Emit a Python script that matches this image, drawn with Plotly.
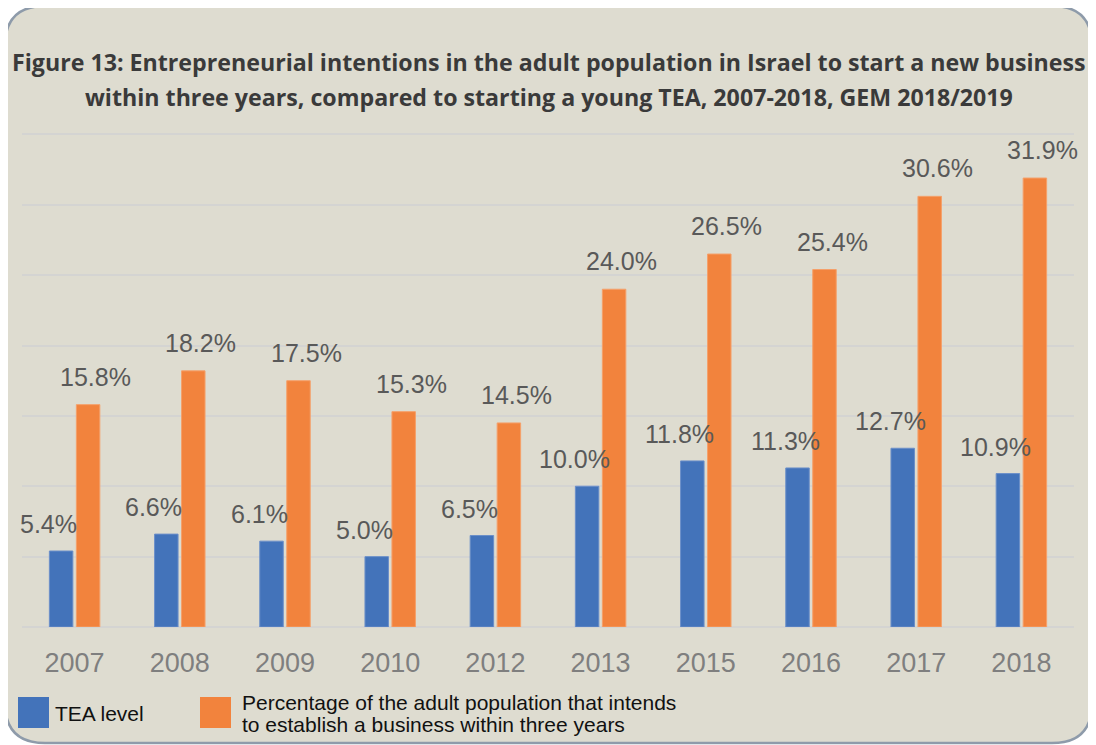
import plotly.graph_objects as go

years = ["2007", "2008", "2009", "2010", "2012", "2013", "2015", "2016", "2017", "2018"]
tea = [5.4, 6.6, 6.1, 5.0, 6.5, 10.0, 11.8, 11.3, 12.7, 10.9]
intend = [15.8, 18.2, 17.5, 15.3, 14.5, 24.0, 26.5, 25.4, 30.6, 31.9]
names = ["TEA level",
         "Percentage of the adult population that intends",
         "to establish a business within three years"]
title_lines = ["Figure 13: Entrepreneurial intentions in the adult population in Israel to start a new business",
               "within three years, compared to starting a young TEA, 2007-2018, GEM 2018/2019"]

BLUE = "#4373BA"
ORANGE = "#F2833D"
BG = "#DEDCD0"

# plot area in screen pixels (page body adds an 8px margin, so the figure is shifted)
OFF = 8
L, T, W, H = 22, 133, 1052, 494


def px(x):
    return (x - L) / W


def py(y):
    return (T + H - y) / H


fig = go.Figure()
fig.add_bar(x=years, y=tea, name=names[0], marker_color=BLUE,
            marker_line=dict(width=1, color="#6b8fc9"))
fig.add_bar(x=years, y=intend, name=names[1], marker_color=ORANGE,
            marker_line=dict(width=1, color="#f5a06a"))

# data labels (x as category index so the axis range is not stretched)
lab_font = dict(family="Arial", size=25, color="#595959")
for i, v in enumerate(tea):
    fig.add_annotation(x=i, y=v, text=f"{v:.1f}%", showarrow=False,
                       xshift=-26, yshift=27, yanchor="middle", font=lab_font)
for i, v in enumerate(intend):
    fig.add_annotation(x=i, y=v, text=f"{v:.1f}%", showarrow=False,
                       xshift=21, yshift=28, yanchor="middle", font=lab_font)

# title
for i, line in enumerate(title_lines):
    fig.add_annotation(x=px(549), y=py(62 + 35 * i), xref="paper", yref="paper",
                       text=f"<b>{line}</b>", showarrow=False,
                       xanchor="center", yanchor="middle",
                       font=dict(family="Open Sans", size=23.2, color="#3a3a3a"))

# rounded background panel
x0, y0, x1, y1, r = 5, 6, 1092, 743, 40
path = (f"M {px(x0 + r)} {py(y0)} L {px(x1 - r)} {py(y0)} "
        f"Q {px(x1)} {py(y0)} {px(x1)} {py(y0 + r)} "
        f"L {px(x1)} {py(y1 - r)} Q {px(x1)} {py(y1)} {px(x1 - r)} {py(y1)} "
        f"L {px(x0 + r)} {py(y1)} Q {px(x0)} {py(y1)} {px(x0)} {py(y1 - r)} "
        f"L {px(x0)} {py(y0 + r)} Q {px(x0)} {py(y0)} {px(x0 + r)} {py(y0)} Z")
fig.add_shape(type="path", path=path, xref="paper", yref="paper", layer="below",
              fillcolor=BG, line=dict(color="#8E9BAA", width=2.5))

# legend
leg_font = dict(family="Arial", size=21, color="#111111")
fig.add_shape(type="rect", xref="paper", yref="paper", x0=px(18), x1=px(49),
              y0=py(728), y1=py(697), fillcolor=BLUE, line_width=0)
fig.add_shape(type="rect", xref="paper", yref="paper", x0=px(200), x1=px(231),
              y0=py(728), y1=py(697), fillcolor=ORANGE, line_width=0)
fig.add_annotation(x=px(53), y=py(713), xref="paper", yref="paper", text=names[0],
                   showarrow=False, xanchor="left", yanchor="middle", font=leg_font)
fig.add_annotation(x=px(240), y=py(702), xref="paper", yref="paper", text=names[1],
                   showarrow=False, xanchor="left", yanchor="middle", font=leg_font)
fig.add_annotation(x=px(240), y=py(724), xref="paper", yref="paper", text=names[2],
                   showarrow=False, xanchor="left", yanchor="middle", font=leg_font)

fig.update_layout(
    width=1096, height=745,
    margin=dict(l=L - OFF, r=1096 - (L - OFF) - W, t=T - OFF, b=745 - (T - OFF) - H),
    paper_bgcolor="white", plot_bgcolor="rgba(0,0,0,0)",
    barmode="group", bargap=0.487, bargroupgap=0.13,
    showlegend=False,
    font=dict(family="Arial"),
)
fig.update_xaxes(type="category", range=[-0.5, len(years) - 0.5], showgrid=False,
                 ticks="", ticklabelstandoff=17,
                 tickfont=dict(family="Arial", size=27, color="#7F7F7F"),
                 showline=False)
fig.update_yaxes(range=[0, 35.1], dtick=5, showticklabels=False, showgrid=True,
                 gridcolor="#D4D4D2", gridwidth=2,
                 zeroline=True, zerolinecolor="#D4D4D2", zerolinewidth=2)

fig.write_html("out.html")
